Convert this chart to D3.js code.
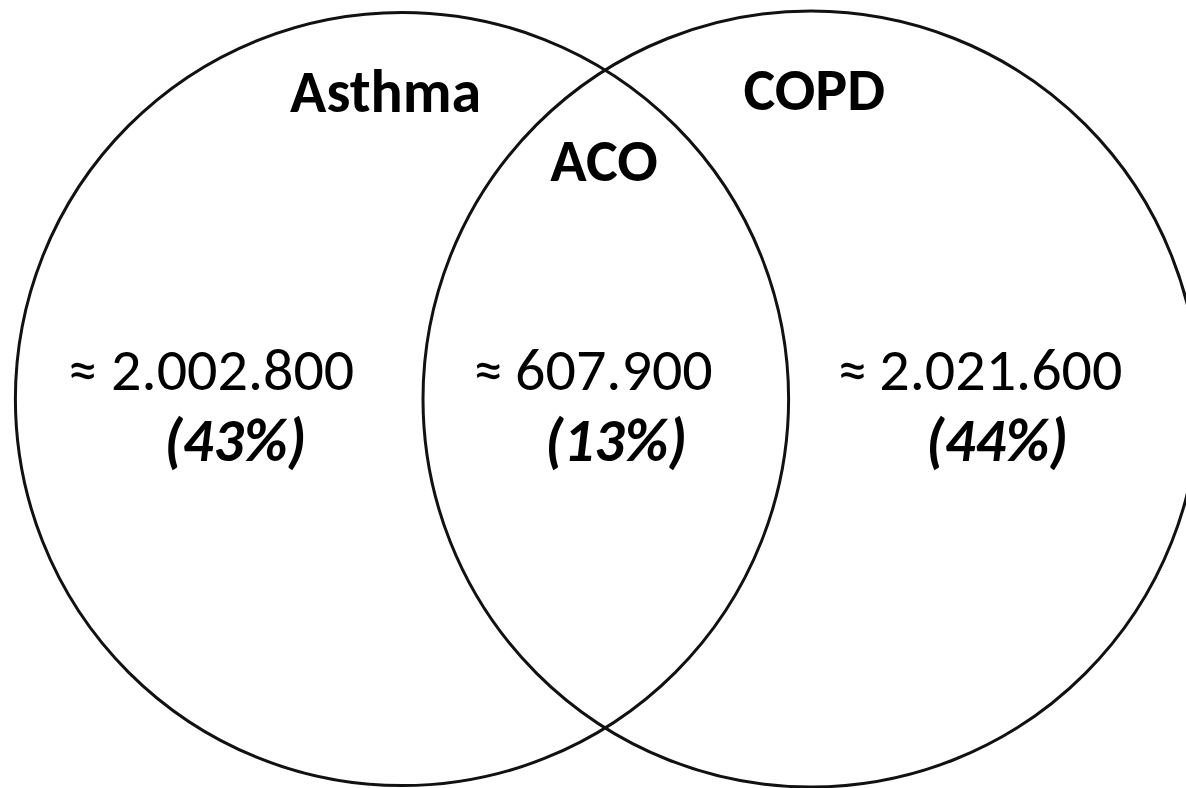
<!DOCTYPE html>
<html>
<head>
<meta charset="utf-8">
<script src="https://cdn.jsdelivr.net/npm/d3@7"></script>
<style>
    html, body {margin: 0; padding: 0; background: #fff;}
    svg {display: block;}
    text {font-family: Carlito, Calibri, Lato, sans-serif; fill: #000;}
</style>
</head>
<body>
<div id="vennContainer"></div>
<script>
// set names and sizes (people)
const setNames = ["Asthma", "COPD"];
const overlapName = "ACO";
const regionNames = ["Asthma only", "ACO", "COPD only"];
const regionCounts = [2002800, 607900, 2021600];
const regionPercents = [43, 13, 44];

const width = 1186, height = 788;

const locale = d3.formatLocale({decimal: ",", thousands: ".", grouping: [3], currency: ["", ""]});
const fmt = locale.format(",d");

const setTotals = [regionCounts[0] + regionCounts[1], regionCounts[2] + regionCounts[1]];

const svg = d3.select("#vennContainer").append("svg")
    .attr("width", width)
    .attr("height", height);

// circle size from set total
const radius = d3.scaleSqrt()
    .domain([0, d3.max(setTotals)])
    .range([0, 388]);

// horizontal layout: 0 = left centre, 1 = right centre
const x = d3.scaleLinear().domain([0, 1]).range([402, 811]);
const cy = height / 2 + 5;

const circles = setNames.map((name, i) => ({name: name, cx: x(i), r: radius(setTotals[i])}));

svg.selectAll("circle")
    .data(circles)
    .enter()
    .append("circle")
    .attr("cx", d => d.cx)
    .attr("cy", cy)
    .attr("r", d => d.r)
    .attr("fill", "none")
    .attr("stroke", "#111")
    .style("stroke-width", "3px");

// set labels
const labelPos = [{x: x(-0.04), y: 112}, {x: x(1.008), y: 110}];
svg.selectAll("text.set-label")
    .data(circles)
    .enter()
    .append("text")
    .attr("class", "set-label")
    .attr("x", (d, i) => labelPos[i].x)
    .attr("y", (d, i) => labelPos[i].y)
    .attr("text-anchor", "middle")
    .style("font-weight", "bold")
    .style("font-size", "60px")
    .text(d => d.name);

svg.append("text")
    .attr("x", x(0.494))
    .attr("y", 181)
    .attr("text-anchor", "middle")
    .style("font-weight", "bold")
    .style("font-size", "60px")
    .text(overlapName);

// region values
const regionX = [x(-0.467), x(0.467), x(1.413)];
const pctX = [x(-0.408), x(0.523), x(1.455)];

svg.selectAll("text.count")
    .data(regionCounts)
    .enter()
    .append("text")
    .attr("class", "count")
    .attr("x", (d, i) => regionX[i])
    .attr("y", 390)
    .attr("text-anchor", "middle")
    .style("font-size", "60px")
    .text((d, i) => (i === 0 ? "≈ " : "≈\u2009") + fmt(d));

svg.selectAll("text.pct")
    .data(regionPercents)
    .enter()
    .append("text")
    .attr("class", "pct")
    .attr("x", (d, i) => pctX[i])
    .attr("y", 461)
    .attr("text-anchor", "middle")
    .style("font-weight", "bold")
    .style("font-style", "italic")
    .style("font-size", "60px")
    .text(d => "(" + d + "%)");
</script>
</body>
</html>
